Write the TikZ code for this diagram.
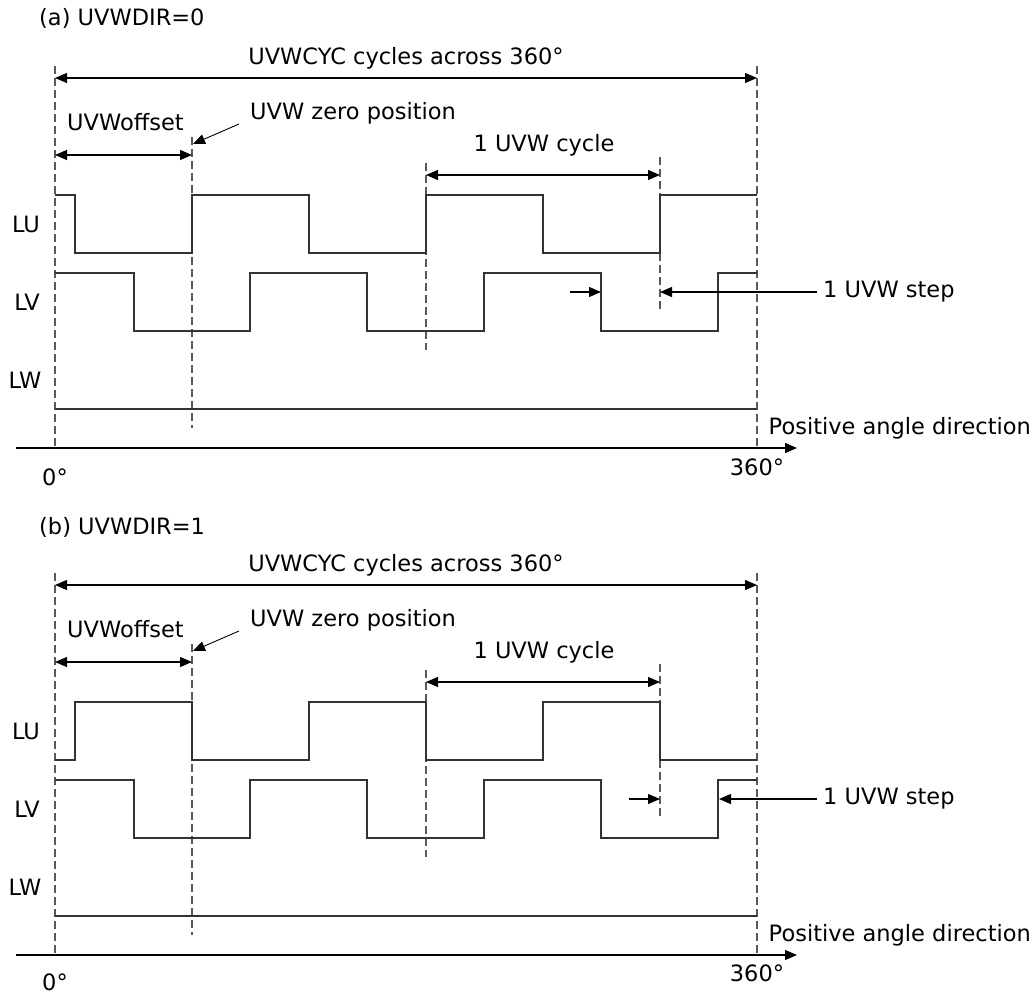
\documentclass[tikz,border=0pt]{standalone}
\usepackage{fontspec}
\setmainfont{DejaVu Sans}
\usetikzlibrary{arrows.meta}
\definecolor{wavegray}{rgb}{.2,.2,.2}
\definecolor{guidegray}{rgb}{.35,.35,.35}
\tikzset{
  wave/.style={wavegray, line width=1.2pt},
  guide/.style={guidegray, line width=1.1pt, dash pattern=on 8pt off 4pt},
  dimarrow/.style={line width=1.1pt, {Triangle[length=12pt,width=10pt]}-{Triangle[length=12pt,width=10pt]}},
  ptr/.style={line width=1.1pt, -{Triangle[length=12pt,width=10pt]}},
  lbl/.style={inner sep=0pt, font=\fontsize{22.5}{27}\selectfont}
}

\begin{document}
\begin{tikzpicture}[x=1pt, y=-1pt]
  \useasboundingbox (0,0) rectangle (1035,995);

  % ---------- (a) UVWDIR=0 ----------
  \begin{scope}
    \node[lbl, anchor=west] (titlea) at (39,18) {(a) UVWDIR=0};

    % Guides
    \coordinate (g0a) at (55,66);   \coordinate (g0ba) at (55,448);
    \coordinate (gea) at (757,66);  \coordinate (geba) at (757,448);
    \coordinate (gza) at (192,137); \coordinate (gzba) at (192,428);
    \coordinate (g1a) at (426,163); \coordinate (g1ba) at (426,350);
    \coordinate (g2a) at (660,157); \coordinate (g2ba) at (660,310);
    \draw[guide] (g0a) -- (g0ba);
    \draw[guide] (gea) -- (geba);
    \draw[guide] (gza) -- (gzba);
    \draw[guide] (g1a) -- (g1ba);
    \draw[guide] (g2a) -- (g2ba);

    % Dimension arrows and labels
    \node[lbl] (cycsa) at (406,58) {UVWCYC cycles across 360°};
    \draw[dimarrow] (55,78) -- (757,78);
    \node[lbl, anchor=west] (offseta) at (67,122) {UVWoffset};
    \draw[dimarrow] (55,155) -- (192,155);
    \node[lbl, anchor=west] (zeroa) at (250,113) {UVW zero position};
    \coordinate (zsa) at (239,124); \coordinate (zea) at (193,144);
    \draw[ptr, line width=0.9pt] (zsa) -- (zea);
    \node[lbl] (cyca) at (544,145) {1 UVW cycle};
    \draw[dimarrow] (426,175) -- (660,175);

    % Waveforms
    \node[lbl] (lua) at (26,224) {LU};
    \node[lbl] (lva) at (27,302) {LV};
    \node[lbl] (lwa) at (25,380) {LW};
    \draw[wave] (55,195) -- (75,195) -- (75,253) -- (192,253) -- (192,195)
      -- (309,195) -- (309,253) -- (426,253) -- (426,195) -- (543,195)
      -- (543,253) -- (660,253) -- (660,195) -- (757,195);
    \draw[wave] (55,273) -- (134,273) -- (134,331) -- (250,331) -- (250,273)
      -- (367,273) -- (367,331) -- (484,331) -- (484,273) -- (601,273)
      -- (601,331) -- (718,331) -- (718,273) -- (757,273);
    \draw[wave] (55,409) -- (757,409);

    % UVW step
    \node[lbl, anchor=west] (stepa) at (823,292) {1 UVW step};
    \coordinate (s1a) at (570,292); \coordinate (s2a) at (601,292);
    \coordinate (s3a) at (660,292);
    \draw[ptr] (s1a) -- (s2a);
    \draw[ptr] (stepa.west) ++(-6,0) -- (s3a);

    % Angle axis
    \coordinate (axsa) at (16,448); \coordinate (axea) at (797,448);
    \draw[ptr] (axsa) -- (axea);
    \node[lbl, anchor=east] (posa) at (1031,428) {Positive angle direction};
    \node[lbl] (zdega) at (55,477) {0°};
    \node[lbl] (fdega) at (757,467) {360°};
  \end{scope}

  % ---------- (b) UVWDIR=1 ----------
  \begin{scope}[shift={(0,507)}]
    \node[lbl, anchor=west] (titleb) at (39,20) {(b) UVWDIR=1};

    % Guides
    \coordinate (g0b) at (55,66);   \coordinate (g0bb) at (55,448);
    \coordinate (geb) at (757,66);  \coordinate (gebb) at (757,448);
    \coordinate (gzb) at (192,137); \coordinate (gzbb) at (192,428);
    \coordinate (g1b) at (426,163); \coordinate (g1bb) at (426,350);
    \coordinate (g2b) at (660,157); \coordinate (g2bb) at (660,310);
    \draw[guide] (g0b) -- (g0bb);
    \draw[guide] (geb) -- (gebb);
    \draw[guide] (gzb) -- (gzbb);
    \draw[guide] (g1b) -- (g1bb);
    \draw[guide] (g2b) -- (g2bb);

    % Dimension arrows and labels
    \node[lbl] (cycsb) at (406,58) {UVWCYC cycles across 360°};
    \draw[dimarrow] (55,78) -- (757,78);
    \node[lbl, anchor=west] (offsetb) at (67,122) {UVWoffset};
    \draw[dimarrow] (55,155) -- (192,155);
    \node[lbl, anchor=west] (zerob) at (250,113) {UVW zero position};
    \coordinate (zsb) at (239,124); \coordinate (zeb) at (193,144);
    \draw[ptr, line width=0.9pt] (zsb) -- (zeb);
    \node[lbl] (cycb) at (544,145) {1 UVW cycle};
    \draw[dimarrow] (426,175) -- (660,175);

    % Waveforms
    \node[lbl] (lub) at (26,224) {LU};
    \node[lbl] (lvb) at (27,302) {LV};
    \node[lbl] (lwb) at (25,380) {LW};
    \draw[wave] (55,253) -- (75,253) -- (75,195) -- (192,195) -- (192,253)
      -- (309,253) -- (309,195) -- (426,195) -- (426,253) -- (543,253)
      -- (543,195) -- (660,195) -- (660,253) -- (757,253);
    \draw[wave] (55,273) -- (134,273) -- (134,331) -- (250,331) -- (250,273)
      -- (367,273) -- (367,331) -- (484,331) -- (484,273) -- (601,273)
      -- (601,331) -- (718,331) -- (718,273) -- (757,273);
    \draw[wave] (55,409) -- (757,409);

    % UVW step
    \node[lbl, anchor=west] (stepb) at (823,292) {1 UVW step};
    \coordinate (s1b) at (629,292); \coordinate (s2b) at (660,292);
    \coordinate (s3b) at (719,292);
    \draw[ptr] (s1b) -- (s2b);
    \draw[ptr] (stepb.west) ++(-6,0) -- (s3b);

    % Angle axis
    \coordinate (axsb) at (16,448); \coordinate (axeb) at (797,448);
    \draw[ptr] (axsb) -- (axeb);
    \node[lbl, anchor=east] (posb) at (1031,428) {Positive angle direction};
    \node[lbl] (zdegb) at (55,475) {0°};
    \node[lbl] (fdegb) at (757,466) {360°};
  \end{scope}
\end{tikzpicture}
\end{document}
